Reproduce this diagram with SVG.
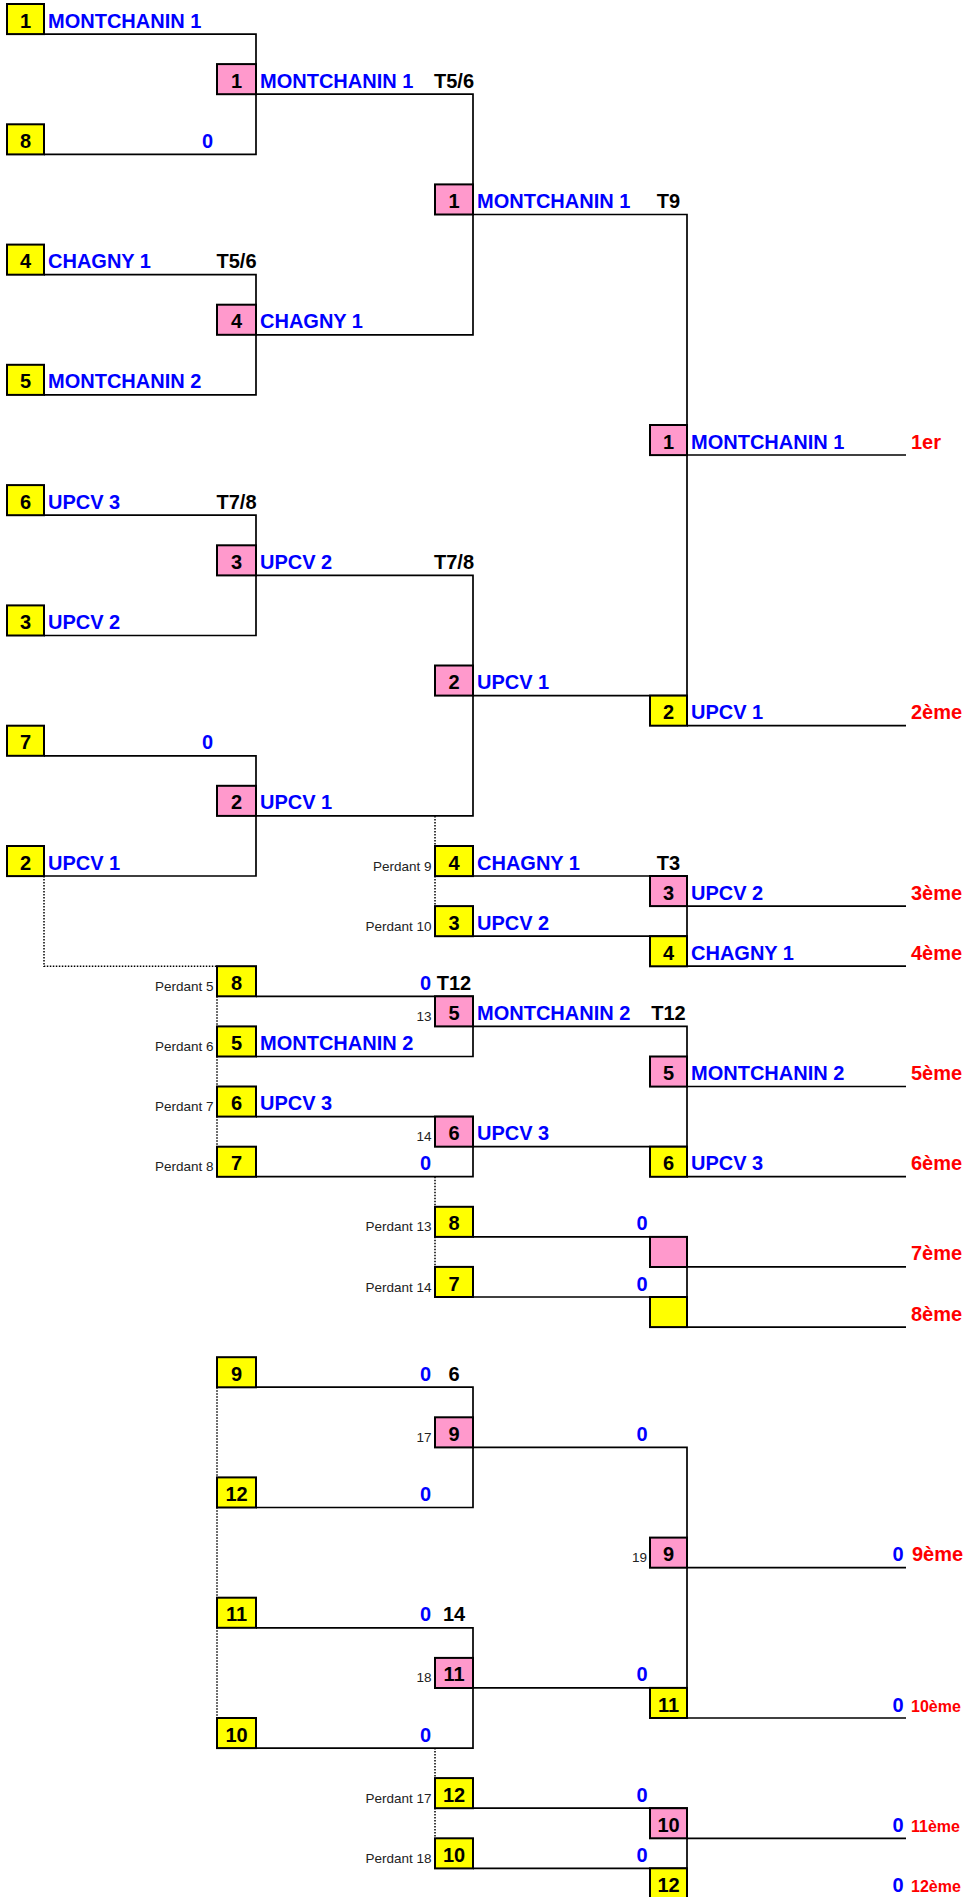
<svg xmlns="http://www.w3.org/2000/svg" width="966" height="1897" viewBox="0 0 966 1897">
<style>
.bg{fill:#fff}
.ln{stroke:#000;stroke-width:1.7;fill:none}
.dt{stroke:#000;stroke-width:1.5;fill:none;stroke-dasharray:1.5 1.5}
.y{fill:#FFFF00;stroke:#000;stroke-width:2}
.p{fill:#FF99CC;stroke:#000;stroke-width:2}
text{font-family:"Liberation Sans",Arial,sans-serif;font-size:20px;font-weight:bold}
.n{fill:#000;text-anchor:middle}
.t{fill:#0000FF}
.te{fill:#0000FF;text-anchor:end}
.k{fill:#000;text-anchor:middle}
.r{fill:#FF0000}
.rs{fill:#FF0000;font-size:16px}
.s{font-size:13.5px;font-weight:normal;fill:#222;text-anchor:end}
</style>
<rect class="bg" x="0" y="0" width="966" height="1897"/>
<g id="connectors">
<path class="ln" d="M44,34.1H256V154.4H44"/>
<path class="ln" d="M44,274.6H256V394.9H44"/>
<path class="ln" d="M44,515.2H256V635.5H44"/>
<path class="ln" d="M44,755.8H256V876H44"/>
<path class="ln" d="M256,94.2H473V334.8H256"/>
<path class="ln" d="M256,575.3H473V815.9H256"/>
<path class="ln" d="M473,214.5H687V725.7"/>
<path class="ln" d="M473,695.6H687"/>
<path class="ln" d="M687,455H906"/>
<path class="ln" d="M687,725.7H906"/>
<path class="ln" d="M473,876H687V966.2"/>
<path class="ln" d="M473,936.2H687"/>
<path class="ln" d="M687,906.1H906"/>
<path class="ln" d="M687,966.2H906"/>
<path class="ln" d="M256,996.3H473V1056.5H256"/>
<path class="ln" d="M256,1116.6H473V1176.7H256"/>
<path class="ln" d="M473,1026.4H687V1176.7"/>
<path class="ln" d="M473,1146.7H687"/>
<path class="ln" d="M687,1086.5H906"/>
<path class="ln" d="M687,1176.7H906"/>
<path class="ln" d="M473,1236.9H687V1327.1"/>
<path class="ln" d="M473,1297H687"/>
<path class="ln" d="M687,1266.9H906"/>
<path class="ln" d="M687,1327.1H906"/>
<path class="ln" d="M256,1387.2H473V1507.5H256"/>
<path class="ln" d="M256,1627.8H473V1748.1H256"/>
<path class="ln" d="M473,1447.4H687V1718"/>
<path class="ln" d="M473,1687.9H687"/>
<path class="ln" d="M687,1567.6H906"/>
<path class="ln" d="M687,1718H906"/>
<path class="ln" d="M473,1808.2H687V1898.4"/>
<path class="ln" d="M473,1868.3H687"/>
<path class="ln" d="M687,1838.3H906"/>
<path class="dt" d="M435,815.9V906.1"/>
<path class="dt" d="M44,876V966.2H217"/>
<path class="dt" d="M217,966.2V1176.7"/>
<path class="dt" d="M435,1176.7V1266.9"/>
<path class="dt" d="M217,1387.2V1718"/>
<path class="dt" d="M435,1748.1V1838.3"/>
</g>

<g id="a1"><rect class="y" x="7" y="4" width="37" height="30.1"/><text class="n" x="25.5" y="27.6">1</text><text class="t" x="48" y="27.6">MONTCHANIN 1</text></g>
<g id="a8"><rect class="y" x="7" y="124.3" width="37" height="30.1"/><text class="n" x="25.5" y="147.9">8</text><text class="te" x="213" y="147.9">0</text></g>
<g id="a4"><rect class="y" x="7" y="244.6" width="37" height="30.1"/><text class="n" x="25.5" y="268.1">4</text><text class="t" x="48" y="268.1">CHAGNY 1</text><text class="k" x="236.5" y="268.1">T5/6</text></g>
<g id="a5"><rect class="y" x="7" y="364.8" width="37" height="30.1"/><text class="n" x="25.5" y="388.4">5</text><text class="t" x="48" y="388.4">MONTCHANIN 2</text></g>
<g id="a6"><rect class="y" x="7" y="485.1" width="37" height="30.1"/><text class="n" x="25.5" y="508.7">6</text><text class="t" x="48" y="508.7">UPCV 3</text><text class="k" x="236.5" y="508.7">T7/8</text></g>
<g id="a3"><rect class="y" x="7" y="605.4" width="37" height="30.1"/><text class="n" x="25.5" y="629">3</text><text class="t" x="48" y="629">UPCV 2</text></g>
<g id="a7"><rect class="y" x="7" y="725.7" width="37" height="30.1"/><text class="n" x="25.5" y="749.3">7</text><text class="te" x="213" y="749.3">0</text></g>
<g id="a2"><rect class="y" x="7" y="846" width="37" height="30.1"/><text class="n" x="25.5" y="869.5">2</text><text class="t" x="48" y="869.5">UPCV 1</text></g>

<g id="b1"><rect class="p" x="217" y="64.1" width="39" height="30.1"/><text class="n" x="236.5" y="87.7">1</text><text class="t" x="260" y="87.7">MONTCHANIN 1</text><text class="k" x="454" y="87.7">T5/6</text></g>
<g id="b4"><rect class="p" x="217" y="304.7" width="39" height="30.1"/><text class="n" x="236.5" y="328.3">4</text><text class="t" x="260" y="328.3">CHAGNY 1</text></g>
<g id="b3"><rect class="p" x="217" y="545.3" width="39" height="30.1"/><text class="n" x="236.5" y="568.8">3</text><text class="t" x="260" y="568.8">UPCV 2</text><text class="k" x="454" y="568.8">T7/8</text></g>
<g id="b2"><rect class="p" x="217" y="785.8" width="39" height="30.1"/><text class="n" x="236.5" y="809.4">2</text><text class="t" x="260" y="809.4">UPCV 1</text></g>

<g id="c1"><rect class="p" x="435" y="184.4" width="38" height="30.1"/><text class="n" x="454" y="208">1</text><text class="t" x="477" y="208">MONTCHANIN 1</text><text class="k" x="668.5" y="208">T9</text></g>
<g id="c2"><rect class="p" x="435" y="665.5" width="38" height="30.1"/><text class="n" x="454" y="689.1">2</text><text class="t" x="477" y="689.1">UPCV 1</text></g>

<g id="d1"><rect class="p" x="650" y="425" width="37" height="30.1"/><text class="n" x="668.5" y="448.5">1</text><text class="t" x="691" y="448.5">MONTCHANIN 1</text><text class="r" x="911" y="448.5">1er</text></g>
<g id="d2"><rect class="y" x="650" y="695.6" width="37" height="30.1"/><text class="n" x="668.5" y="719.2">2</text><text class="t" x="691" y="719.2">UPCV 1</text><text class="r" x="911" y="719.2">2ème</text></g>

<g id="p9"><rect class="y" x="435" y="846" width="38" height="30.1"/><text class="s" x="431.5" y="870.5">Perdant 9</text><text class="n" x="454" y="869.5">4</text><text class="t" x="477" y="869.5">CHAGNY 1</text><text class="k" x="668.5" y="869.5">T3</text></g>
<g id="p10"><rect class="y" x="435" y="906.1" width="38" height="30.1"/><text class="s" x="431.5" y="930.7">Perdant 10</text><text class="n" x="454" y="929.7">3</text><text class="t" x="477" y="929.7">UPCV 2</text></g>
<g id="d3"><rect class="p" x="650" y="876" width="37" height="30.1"/><text class="n" x="668.5" y="899.6">3</text><text class="t" x="691" y="899.6">UPCV 2</text><text class="r" x="911" y="899.6">3ème</text></g>
<g id="d4"><rect class="y" x="650" y="936.2" width="37" height="30.1"/><text class="n" x="668.5" y="959.7">4</text><text class="t" x="691" y="959.7">CHAGNY 1</text><text class="r" x="911" y="959.7">4ème</text></g>

<g id="p5"><rect class="y" x="217" y="966.2" width="39" height="30.1"/><text class="s" x="213.5" y="990.8">Perdant 5</text><text class="n" x="236.5" y="989.8">8</text><text class="te" x="431" y="989.8">0</text><text class="k" x="454" y="989.8">T12</text></g>
<g id="p6"><rect class="y" x="217" y="1026.4" width="39" height="30.1"/><text class="s" x="213.5" y="1051">Perdant 6</text><text class="n" x="236.5" y="1050">5</text><text class="t" x="260" y="1050">MONTCHANIN 2</text></g>
<g id="p7"><rect class="y" x="217" y="1086.5" width="39" height="30.1"/><text class="s" x="213.5" y="1111.1">Perdant 7</text><text class="n" x="236.5" y="1110.1">6</text><text class="t" x="260" y="1110.1">UPCV 3</text></g>
<g id="p8"><rect class="y" x="217" y="1146.7" width="39" height="30.1"/><text class="s" x="213.5" y="1171.2">Perdant 8</text><text class="n" x="236.5" y="1170.2">7</text><text class="te" x="431" y="1170.2">0</text></g>
<g id="m13"><rect class="p" x="435" y="996.3" width="38" height="30.1"/><text class="s" x="431.5" y="1020.9">13</text><text class="n" x="454" y="1019.9">5</text><text class="t" x="477" y="1019.9">MONTCHANIN 2</text><text class="k" x="668.5" y="1019.9">T12</text></g>
<g id="m14"><rect class="p" x="435" y="1116.6" width="38" height="30.1"/><text class="s" x="431.5" y="1141.2">14</text><text class="n" x="454" y="1140.2">6</text><text class="t" x="477" y="1140.2">UPCV 3</text></g>
<g id="d5"><rect class="p" x="650" y="1056.5" width="37" height="30.1"/><text class="n" x="668.5" y="1080">5</text><text class="t" x="691" y="1080">MONTCHANIN 2</text><text class="r" x="911" y="1080">5ème</text></g>
<g id="d6"><rect class="y" x="650" y="1146.7" width="37" height="30.1"/><text class="n" x="668.5" y="1170.2">6</text><text class="t" x="691" y="1170.2">UPCV 3</text><text class="r" x="911" y="1170.2">6ème</text></g>
<g id="p13"><rect class="y" x="435" y="1206.8" width="38" height="30.1"/><text class="s" x="431.5" y="1231.4">Perdant 13</text><text class="n" x="454" y="1230.4">8</text><text class="te" x="647.5" y="1230.4">0</text></g>
<g id="p14"><rect class="y" x="435" y="1266.9" width="38" height="30.1"/><text class="s" x="431.5" y="1291.5">Perdant 14</text><text class="n" x="454" y="1290.5">7</text><text class="te" x="647.5" y="1290.5">0</text></g>
<g id="d7"><rect class="p" x="650" y="1236.9" width="37" height="30.1"/><text class="r" x="911" y="1260.4">7ème</text></g>
<g id="d8"><rect class="y" x="650" y="1297" width="37" height="30.1"/><text class="r" x="911" y="1320.6">8ème</text></g>

<g id="l9"><rect class="y" x="217" y="1357.2" width="39" height="30.1"/><text class="n" x="236.5" y="1380.7">9</text><text class="te" x="431" y="1380.7">0</text><text class="k" x="454" y="1380.7">6</text></g>
<g id="l12"><rect class="y" x="217" y="1477.4" width="39" height="30.1"/><text class="n" x="236.5" y="1501">12</text><text class="te" x="431" y="1501">0</text></g>
<g id="l11"><rect class="y" x="217" y="1597.7" width="39" height="30.1"/><text class="n" x="236.5" y="1621.3">11</text><text class="te" x="431" y="1621.3">0</text><text class="k" x="454" y="1621.3">14</text></g>
<g id="l10"><rect class="y" x="217" y="1718" width="39" height="30.1"/><text class="n" x="236.5" y="1741.6">10</text><text class="te" x="431" y="1741.6">0</text></g>
<g id="m17"><rect class="p" x="435" y="1417.3" width="38" height="30.1"/><text class="s" x="431.5" y="1441.9">17</text><text class="n" x="454" y="1440.9">9</text><text class="te" x="647.5" y="1440.9">0</text></g>
<g id="m18"><rect class="p" x="435" y="1657.9" width="38" height="30.1"/><text class="s" x="431.5" y="1682.4">18</text><text class="n" x="454" y="1681.4">11</text><text class="te" x="647.5" y="1681.4">0</text></g>
<g id="d9"><rect class="p" x="650" y="1537.6" width="37" height="30.1"/><text class="s" x="647" y="1562.1">19</text><text class="n" x="668.5" y="1561.1">9</text><text class="te" x="903.5" y="1561.1">0</text><text class="r" x="912" y="1561.1">9ème</text></g>
<g id="d10"><rect class="y" x="650" y="1687.9" width="37" height="30.1"/><text class="n" x="668.5" y="1711.5">11</text><text class="te" x="903.5" y="1711.5">0</text><text class="rs" x="911" y="1711.5">10ème</text></g>
<g id="p17"><rect class="y" x="435" y="1778.1" width="38" height="30.1"/><text class="s" x="431.5" y="1802.7">Perdant 17</text><text class="n" x="454" y="1801.7">12</text><text class="te" x="647.5" y="1801.7">0</text></g>
<g id="p18"><rect class="y" x="435" y="1838.3" width="38" height="30.1"/><text class="s" x="431.5" y="1862.9">Perdant 18</text><text class="n" x="454" y="1861.9">10</text><text class="te" x="647.5" y="1861.9">0</text></g>
<g id="d11"><rect class="p" x="650" y="1808.2" width="37" height="30.1"/><text class="n" x="668.5" y="1831.8">10</text><text class="te" x="903.5" y="1831.8">0</text><text class="rs" x="911" y="1831.8">11ème</text></g>
<g id="d12"><rect class="y" x="650" y="1868.3" width="37" height="30.1"/><text class="n" x="668.5" y="1891.9">12</text><text class="te" x="903.5" y="1891.9">0</text><text class="rs" x="911" y="1891.9">12ème</text></g>
</svg>
